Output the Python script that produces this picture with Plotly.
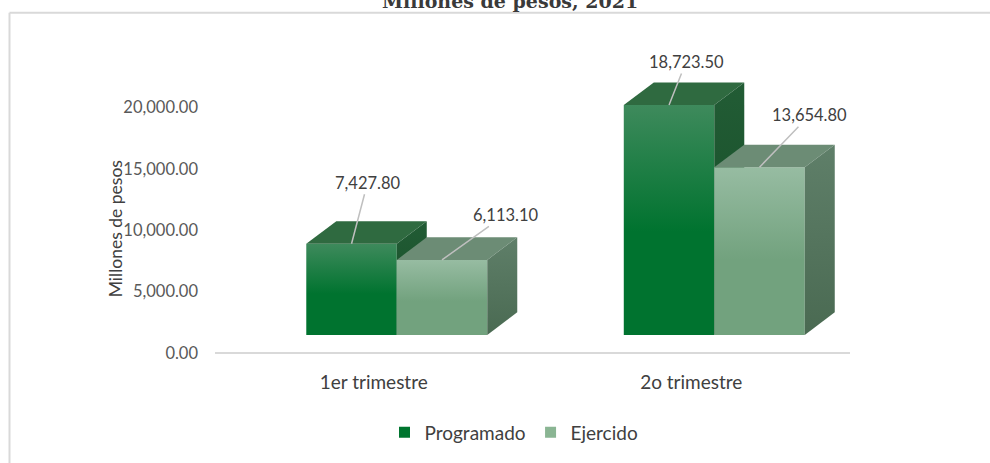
import plotly.graph_objects as go

# ---------------- data ----------------
categories = ["1er trimestre", "2o trimestre"]
series_names = ["Programado", "Ejercido"]
programado = [7427.80, 18723.50]
ejercido = [6113.10, 13654.80]
y_tick_values = [0, 5000, 10000, 15000, 20000]
y_tick_labels = ["0.00", "5,000.00", "10,000.00", "15,000.00", "20,000.00"]

# ---------------- style ----------------
W, H = 990, 463
ML, MR, MT, MB = 215, 140, 46, 108
X_RANGE = [-0.5, 1.5]
Y_RANGE = [0, 25000]
FONT = "Lato"
TXT = "#404040"

BASE = 1470        # floor lift of the 3-D front faces (axis units)
BAR_W = 0.285      # bar width (category units)
GROUP_LEFT = -0.2125
DEPTH_X = 0.0945
DEPTH_Y = 1840

styles = {
    "Programado": dict(front=("#00732f", "#3e8a5c"), top="#2f6a40",
                       side=("#144b25", "#225c35"), legend="#00752f"),
    "Ejercido": dict(front=("#72a27e", "#97bca2"), top="#6c8c75",
                     side=("#4a6a52", "#5f7f69"), legend="#8ab593"),
}
label_offsets = {("Programado", 0): (16, -61), ("Ejercido", 0): (63, -45),
                 ("Programado", 1): (17, -43), ("Ejercido", 1): (50, -52)}

fig = go.Figure()
annotations = []

for s_idx, (name, vals) in enumerate(zip(series_names, [programado, ejercido])):
    st = styles[name]
    for i, v in enumerate(vals):
        x0 = i + GROUP_LEFT + s_idx * BAR_W
        x1 = x0 + BAR_W
        y0 = BASE
        y1 = BASE + v
        # front face
        fig.add_trace(go.Scatter(
            x=[x0, x1, x1, x0, x0], y=[y0, y0, y1, y1, y0],
            mode="lines", fill="toself", line=dict(width=0, color="rgba(0,0,0,0)"),
            fillgradient=dict(type="vertical", start=y0, stop=y1,
                              colorscale=[[0, st["front"][0]], [0.45, st["front"][0]], [1, st["front"][1]]]),
            showlegend=False, hoverinfo="skip"))
        # top face
        fig.add_trace(go.Scatter(
            x=[x0, x1, x1 + DEPTH_X, x0 + DEPTH_X, x0],
            y=[y1, y1, y1 + DEPTH_Y, y1 + DEPTH_Y, y1],
            mode="lines", fill="toself", line=dict(width=0, color="rgba(0,0,0,0)"),
            fillcolor=st["top"], showlegend=False, hoverinfo="skip"))
        # side face
        fig.add_trace(go.Scatter(
            x=[x1, x1 + DEPTH_X, x1 + DEPTH_X, x1, x1],
            y=[y0, y0 + DEPTH_Y, y1 + DEPTH_Y, y1, y0],
            mode="lines", fill="toself", line=dict(width=0, color="rgba(0,0,0,0)"),
            fillgradient=dict(type="vertical", start=y0, stop=y1 + DEPTH_Y,
                              colorscale=[[0, st["side"][0]], [1, st["side"][1]]]),
            showlegend=False, hoverinfo="skip"))
        ax, ay = label_offsets[(name, i)]
        annotations.append(dict(
            x=(x0 + x1) / 2, y=y1, xref="x", yref="y", text=f"{v:,.2f}",
            showarrow=True, arrowhead=0, arrowwidth=1.5, arrowcolor="#bfbfbf",
            ax=ax, ay=ay, standoff=0, font=dict(family=FONT, size=16.5, color=TXT)))

# legend entries
for name in series_names:
    fig.add_trace(go.Scatter(x=[None], y=[None], mode="markers", name=name,
                             marker=dict(symbol="square", size=11, color=styles[name]["legend"])))

pw = W - ML - MR
ph = H - MT - MB
def px_x(px):
    return (px - ML) / pw
def px_y(py):
    return 1 - (py - MT) / ph

annotations.append(dict(text="Millones de pesos", textangle=-90, xref="paper", yref="paper",
                        x=px_x(103), y=px_y(230), showarrow=False,
                        font=dict(family=FONT, size=17.5, color=TXT)))
annotations.append(dict(text="<b>Millones de pesos, 2021</b>", xref="paper", yref="paper",
                        x=px_x(510), y=px_y(14), yanchor="bottom", showarrow=False,
                        font=dict(family="DejaVu Serif", size=19, color="#3a3a3a")))

shapes = [
    dict(type="line", xref="paper", yref="paper", x0=px_x(9.5), x1=px_x(995),
         y0=px_y(12.5), y1=px_y(12.5), line=dict(color="#d9d9d9", width=2)),
    dict(type="line", xref="paper", yref="paper", x0=px_x(9.5), x1=px_x(9.5),
         y0=px_y(12.5), y1=px_y(470), line=dict(color="#d9d9d9", width=2)),
]

fig.update_layout(
    width=W, height=H, margin=dict(l=ML, r=MR, t=MT, b=MB),
    paper_bgcolor="white", plot_bgcolor="white",
    font=dict(family=FONT, size=16, color=TXT),
    xaxis=dict(range=X_RANGE, tickvals=[0, 1], ticktext=categories, showgrid=False,
               zeroline=False, showline=False, ticks="", ticklabelstandoff=16,
               tickfont=dict(family=FONT, size=19, color=TXT)),
    yaxis=dict(range=Y_RANGE, tickvals=y_tick_values, ticktext=y_tick_labels,
               showgrid=False, zeroline=True, zerolinecolor="#d9d9d9", zerolinewidth=1.5,
               showline=False, ticks="", ticklabelstandoff=16,
               tickfont=dict(family=FONT, size=16.5, color="#595959")),
    legend=dict(orientation="h", x=px_x(514), y=px_y(435), xanchor="center", yanchor="middle",
                font=dict(family=FONT, size=19, color=TXT), itemwidth=30),
    annotations=annotations, shapes=shapes, showlegend=True,
)

fig.write_html("out.html", config={"displayModeBar": False},
               post_script="document.body.style.margin='0px';")
